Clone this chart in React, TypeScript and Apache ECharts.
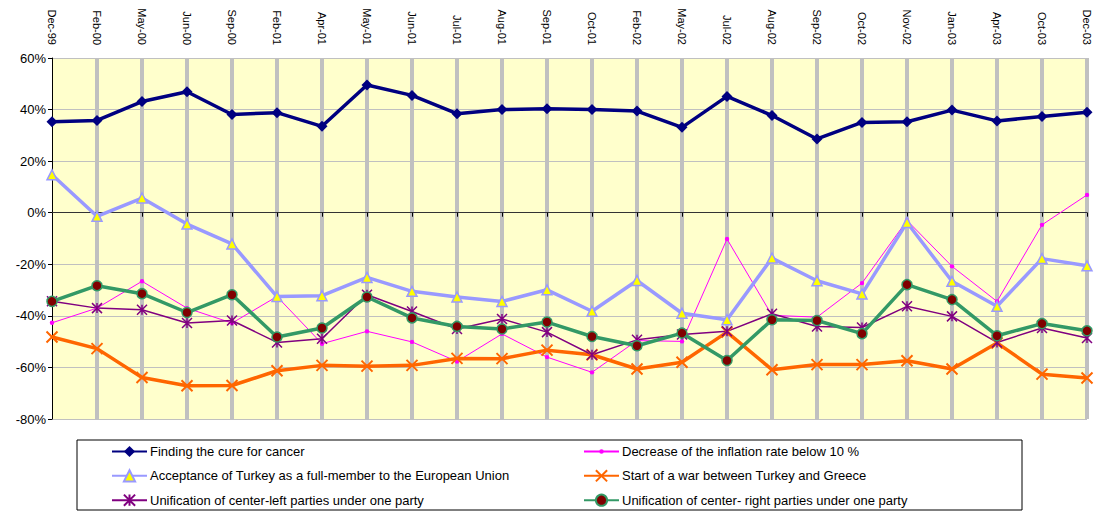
import React, { useEffect, useRef } from 'react';
import * as echarts from 'echarts';

const categories = ['Dec-99','Feb-00','May-00','Jun-00','Sep-00','Feb-01','Apr-01','May-01','Jun-01','Jul-01','Aug-01','Sep-01','Oct-01','Feb-02','May-02','Jul-02','Aug-02','Sep-02','Oct-02','Nov-02','Jan-03','Apr-03','Oct-03','Dec-03'];

const cancer = [35.3, 35.8, 43.1, 46.9, 38.1, 38.8, 33.5, 49.5, 45.5, 38.4, 40.0, 40.3, 40.0, 39.4, 33.1, 45.1, 37.7, 28.6, 35.0, 35.3, 39.8, 35.6, 37.3, 39.0];
const inflation = [-42.7, -37.0, -26.6, -37.0, -42.8, -32.5, -50.8, -46.0, -50.1, -57.7, -47.0, -56.0, -61.9, -49.6, -49.9, -10.2, -39.8, -40.5, -27.3, -3.0, -20.8, -34.4, -4.7, 6.9];
const turkeyEU = [14.7, -1.4, 5.7, -4.4, -12.1, -32.5, -32.2, -25.1, -30.5, -32.7, -34.4, -29.9, -38.2, -26.3, -39.0, -41.5, -17.6, -26.4, -31.5, -3.8, -26.6, -36.3, -17.8, -20.6];
const war = [-48.2, -52.7, -63.9, -67.1, -67.0, -61.3, -59.2, -59.5, -59.2, -56.5, -56.6, -53.3, -55.1, -60.6, -58.0, -46.3, -60.9, -58.9, -58.9, -57.4, -60.6, -50.5, -62.6, -64.1];
const centerLeft = [-34.3, -37.0, -37.6, -42.8, -41.8, -50.3, -48.9, -31.8, -38.3, -45.1, -41.2, -46.3, -55.1, -49.3, -47.2, -46.0, -39.2, -44.1, -44.5, -36.3, -40.2, -50.3, -44.7, -48.6];
const centerRight = [-34.4, -28.3, -31.4, -38.7, -31.8, -48.2, -44.7, -32.7, -40.8, -44.1, -45.1, -42.4, -48.0, -51.6, -46.7, -57.3, -41.5, -41.8, -46.9, -27.9, -33.7, -47.7, -43.0, -45.8];

const names = [
  'Finding the cure for cancer',
  'Decrease of the inflation rate below 10 %',
  'Acceptance of Turkey as a full-member to the European Union',
  'Start of a war between Turkey and Greece',
  'Unification of center-left parties under one party',
  'Unification of center- right parties under one party',
];

const FONT = "Tahoma, 'Liberation Sans', Arial, sans-serif";

export default function App() {
  const ref = useRef<HTMLDivElement>(null);
  useEffect(() => {
    const chart = echarts.init(ref.current!, null, { renderer: 'svg' });
    const legendCommon = {
      orient: 'vertical',
      top: 445,
      padding: 0,
      itemWidth: 35,
      itemHeight: 14,
      itemGap: 11.2,
      textStyle: { fontFamily: FONT, fontSize: 13, color: '#000', padding: [0, 0, 0, -2] },
    };
    chart.setOption({
      animation: false,
      backgroundColor: '#fff',
      textStyle: { fontFamily: FONT },
      grid: {
        left: 52, right: 13, top: 58, bottom: 92,
        show: true, backgroundColor: '#FFFFCC', borderWidth: 0,
      },
      legend: [
        { ...legendCommon, left: 111, data: [names[0], names[2], names[4]] },
        { ...legendCommon, left: 583, data: [names[1], names[3], names[5]] },
      ],
      graphic: [
        {
          type: 'rect',
          shape: { x: 77, y: 440, width: 945, height: 70 },
          style: { fill: 'none', stroke: '#000', lineWidth: 1 },
          silent: true,
        },
      ],
      xAxis: [
        {
          type: 'category',
          data: categories,
          position: 'top',
          boundaryGap: false,
          axisLine: { show: false, onZero: false },
          axisTick: { show: false },
          axisLabel: { rotate: 90, margin: 13, fontSize: 11, color: '#000', fontFamily: FONT, interval: 0 },
          splitLine: {
            show: true,
            interval: (i: number) => i > 0,
            lineStyle: { color: '#C0C0C0', width: 4 },
          },
        },
        {
          type: 'category',
          data: categories,
          position: 'bottom',
          boundaryGap: false,
          axisLine: { show: true, onZero: true, onZeroAxisIndex: 0, lineStyle: { color: '#333', width: 1 } },
          axisTick: { show: true, length: 4, interval: 0, lineStyle: { color: '#000' } },
          axisLabel: { show: false },
          splitLine: { show: false },
        },
      ],
      yAxis: {
        type: 'value',
        min: -80, max: 60, interval: 20,
        axisLine: { show: true, lineStyle: { color: '#000', width: 1 } },
        axisTick: { show: true, length: 4, lineStyle: { color: '#000' } },
        axisLabel: { formatter: '{value}%', fontSize: 13, color: '#000', margin: 6, fontFamily: FONT },
        splitLine: { show: true, lineStyle: { color: '#C0C0C0', width: 1 } },
      },
      series: [
        {
          name: names[0], type: 'line', data: cancer,
          symbol: 'diamond', symbolSize: 11,
          lineStyle: { color: '#000080', width: 3.5 },
          itemStyle: { color: '#000080' },
        },
        {
          name: names[1], type: 'line', data: inflation,
          symbol: 'path://M0,0M10,10M3,5A2,2 0 1,0 7,5A2,2 0 1,0 3,5Z', symbolSize: 11,
          lineStyle: { color: '#FF00FF', width: 1 },
          itemStyle: { color: '#FF00FF' },
        },
        {
          name: names[2], type: 'line', data: turkeyEU,
          symbol: 'triangle', symbolSize: 10,
          lineStyle: { color: '#9999FF', width: 3.5 },
          itemStyle: { color: '#FFFF00', borderColor: '#9999FF', borderWidth: 1.5 },
        },
        {
          name: names[3], type: 'line', data: war,
          symbol: 'path://M0,0L10,10M10,0L0,10', symbolSize: 11,
          lineStyle: { color: '#FF6600', width: 3.5 },
          itemStyle: { color: '#FF6600', borderColor: '#FF6600', borderWidth: 2 },
        },
        {
          name: names[4], type: 'line', data: centerLeft,
          symbol: 'path://M0,0L10,10M10,0L0,10M5,0L5,10', symbolSize: 10,
          lineStyle: { color: '#800080', width: 1.5 },
          itemStyle: { color: '#800080', borderColor: '#800080', borderWidth: 1.5 },
        },
        {
          name: names[5], type: 'line', data: centerRight,
          symbol: 'circle', symbolSize: 10,
          lineStyle: { color: '#339966', width: 3.5 },
          itemStyle: { color: '#800000', borderColor: '#339966', borderWidth: 1.5 },
        },
      ],
    });
    return () => chart.dispose();
  }, []);
  return <div ref={ref} style={{ position: 'fixed', left: 0, top: 0, width: 1100, height: 511 }} />;
}
